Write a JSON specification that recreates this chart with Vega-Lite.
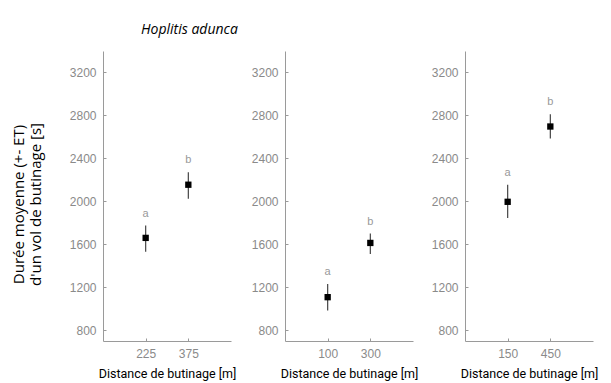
{
  "$schema": "https://vega.github.io/schema/vega-lite/v6.json",
  "padding": {"left": 11, "top": 23, "right": 5, "bottom": 5},
  "background": "white",
  "spacing": 13,
  "data": {"values": [
    {"panel": 1, "distance": 225, "mean": 1660, "lo": 1530, "hi": 1775, "letter": "a"},
    {"panel": 1, "distance": 375, "mean": 2155, "lo": 2025, "hi": 2270, "letter": "b"},
    {"panel": 2, "distance": 100, "mean": 1108, "lo": 985, "hi": 1230, "letter": "a"},
    {"panel": 2, "distance": 300, "mean": 1613, "lo": 1510, "hi": 1700, "letter": "b"},
    {"panel": 3, "distance": 150, "mean": 1996, "lo": 1845, "hi": 2155, "letter": "a"},
    {"panel": 3, "distance": 450, "mean": 2697, "lo": 2585, "hi": 2810, "letter": "b"}
  ]},
  "config": {
    "view": {"stroke": null},
    "axis": {
      "grid": false,
      "domainColor": "#9a9a9a",
      "domainWidth": 1,
      "tickColor": "#9a9a9a",
      "tickSize": -3,
      "labelColor": "#8a8a8a",
      "labelFont": "Liberation Sans",
      "labelFontSize": 12,
      "titleFont": "Roboto",
      "titleFontSize": 12.5,
      "titleFontWeight": "normal",
      "titleColor": "black"
    },
    "axisX": {"labelPadding": 10, "titlePadding": 8, "labelAngle": 0},
    "axisY": {"labelPadding": 10}
  },
  "hconcat": [
    {
      "width": 128, "height": 290,
      "title": {"text": "Hoplitis adunca", "font": "Open Sans", "fontStyle": "italic", "fontWeight": "normal", "fontSize": 14, "anchor": "end", "dx": 2, "offset": 14, "color": "black"},
      "transform": [{"filter": "datum.panel == 1"}],
      "encoding": {
        "x": {"field": "distance", "type": "ordinal", "scale": {"type": "point", "padding": 1}, "axis": {"title": "Distance de butinage [m]"}}
      },
      "layer": [
        {"mark": {"type": "rule", "color": "#444", "strokeWidth": 1.2},
         "encoding": {"y": {"field": "lo", "type": "quantitative", "scale": {"domain": [700, 3400], "nice": false, "zero": false},
            "axis": {"values": [800, 1200, 1600, 2000, 2400, 2800, 3200], "format": "d", "title": ["Durée moyenne (+- ET)", "d'un vol de butinage [s]"], "titleFont": "Open Sans", "titleFontSize": 15, "titlePadding": 26, "titleY": 153}},
           "y2": {"field": "hi"}}},
        {"mark": {"type": "point", "shape": "square", "filled": true, "color": "black", "size": 40, "opacity": 1},
         "encoding": {"y": {"field": "mean", "type": "quantitative"}}},
        {"mark": {"type": "text", "dy": -12, "color": "#999", "font": "Liberation Sans", "fontSize": 11},
         "encoding": {"y": {"field": "hi", "type": "quantitative"}, "text": {"field": "letter"}}}
      ]
    },
    {
      "width": 128, "height": 290,
      "transform": [{"filter": "datum.panel == 2"}],
      "encoding": {
        "x": {"field": "distance", "type": "ordinal", "scale": {"type": "point", "padding": 1}, "axis": {"title": "Distance de butinage [m]"}}
      },
      "layer": [
        {"mark": {"type": "rule", "color": "#444", "strokeWidth": 1.2},
         "encoding": {"y": {"field": "lo", "type": "quantitative", "scale": {"domain": [700, 3400], "nice": false, "zero": false},
            "axis": {"values": [800, 1200, 1600, 2000, 2400, 2800, 3200], "format": "d", "title": null}},
           "y2": {"field": "hi"}}},
        {"mark": {"type": "point", "shape": "square", "filled": true, "color": "black", "size": 40, "opacity": 1},
         "encoding": {"y": {"field": "mean", "type": "quantitative"}}},
        {"mark": {"type": "text", "dy": -12, "color": "#999", "font": "Liberation Sans", "fontSize": 11},
         "encoding": {"y": {"field": "hi", "type": "quantitative"}, "text": {"field": "letter"}}}
      ]
    },
    {
      "width": 128, "height": 290,
      "transform": [{"filter": "datum.panel == 3"}],
      "encoding": {
        "x": {"field": "distance", "type": "ordinal", "scale": {"type": "point", "padding": 1}, "axis": {"title": "Distance de butinage [m]"}}
      },
      "layer": [
        {"mark": {"type": "rule", "color": "#444", "strokeWidth": 1.2},
         "encoding": {"y": {"field": "lo", "type": "quantitative", "scale": {"domain": [700, 3400], "nice": false, "zero": false},
            "axis": {"values": [800, 1200, 1600, 2000, 2400, 2800, 3200], "format": "d", "title": null}},
           "y2": {"field": "hi"}}},
        {"mark": {"type": "point", "shape": "square", "filled": true, "color": "black", "size": 40, "opacity": 1},
         "encoding": {"y": {"field": "mean", "type": "quantitative"}}},
        {"mark": {"type": "text", "dy": -12, "color": "#999", "font": "Liberation Sans", "fontSize": 11},
         "encoding": {"y": {"field": "hi", "type": "quantitative"}, "text": {"field": "letter"}}}
      ]
    }
  ]
}
